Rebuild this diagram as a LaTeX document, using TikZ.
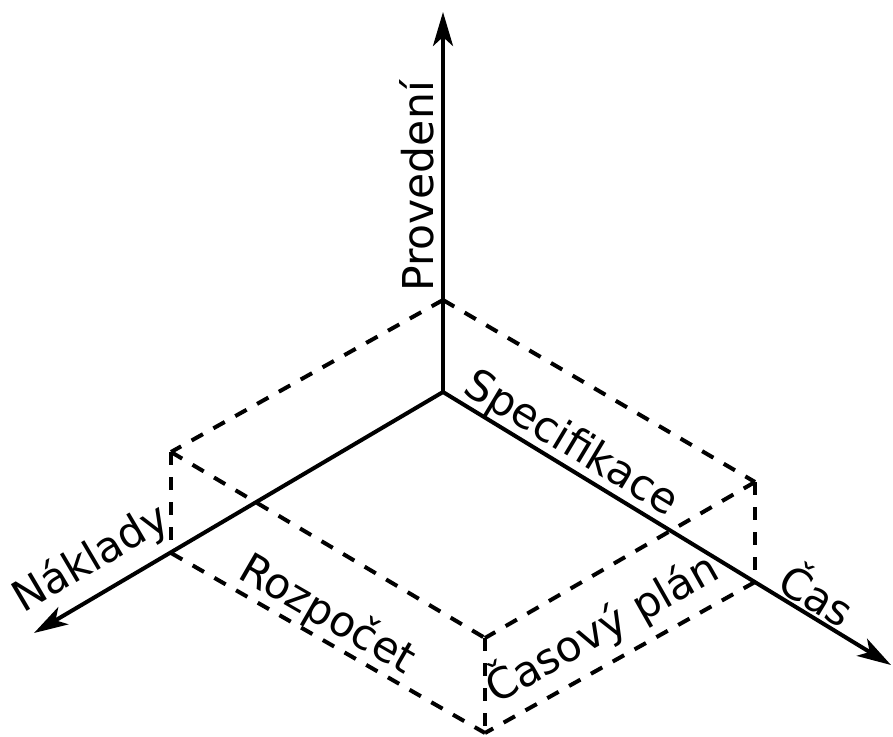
\documentclass[tikz,border=0pt]{standalone}
\usepackage{fontspec}
\setmainfont{DejaVu Sans}
\usetikzlibrary{arrows.meta,calc}
\begin{document}
\begin{tikzpicture}[x=1pt,y=-1pt,
  axis/.style={line width=4pt,-{Stealth[length=34pt,width=20pt,inset=9pt]}},
  boxedge/.style={line width=4pt,dash pattern=on 13pt off 12pt},
  lbl/.style={inner sep=0pt,font=\fontsize{42.5}{50}\selectfont}]
\useasboundingbox (0,0) rectangle (893,736);
\coordinate (O) at (443,392);
\coordinate (Ptip) at (443,12);
\coordinate (Ntip) at (34,633);
\coordinate (Ctip) at (891,665);
\coordinate (T) at (443,300);
\coordinate (Lt) at (171,452);
\coordinate (Lb) at (171,553);
\coordinate (Rt) at (755,482);
\coordinate (Rb) at (755,582);
\coordinate (Bt) at (485,638);
\coordinate (Bb) at (485,733);
% dashed box edges
\draw[boxedge] (T) -- (Lt);
\draw[boxedge] (T) -- (Rt);
\draw[boxedge] (Lt) -- (Lb);
\draw[boxedge] (Rt) -- (Rb);
\draw[boxedge] (Lt) -- (Bt);
\draw[boxedge] (Rt) -- (Bt);
\draw[boxedge] (Bt) -- (Bb);
\draw[boxedge] (Lb) -- (Bb);
\draw[boxedge] (Rb) -- (Bb);
% axes
\draw[axis] (O) -- (Ptip);
\draw[axis] (O) -- (Ntip);
\draw[axis] (O) -- (Ctip);
% labels
\node[lbl,rotate=90,anchor=base west] (prov) at (433,292) {Provedení};
\node[lbl,rotate=30.5,anchor=base west] (nakl) at (23,614) {Náklady};
\node[lbl,rotate=-31,anchor=base west] (spec) at (461,392) {Specifikace};
\node[lbl,rotate=-30,anchor=base west] (rozp) at (236,577) {Rozpočet};
\node[lbl,rotate=29.5,anchor=base west] (casp) at (496,705) {Časový plán};
\node[lbl,rotate=-31,anchor=base west] (cas) at (775,589) {Čas};
\end{tikzpicture}
\end{document}
